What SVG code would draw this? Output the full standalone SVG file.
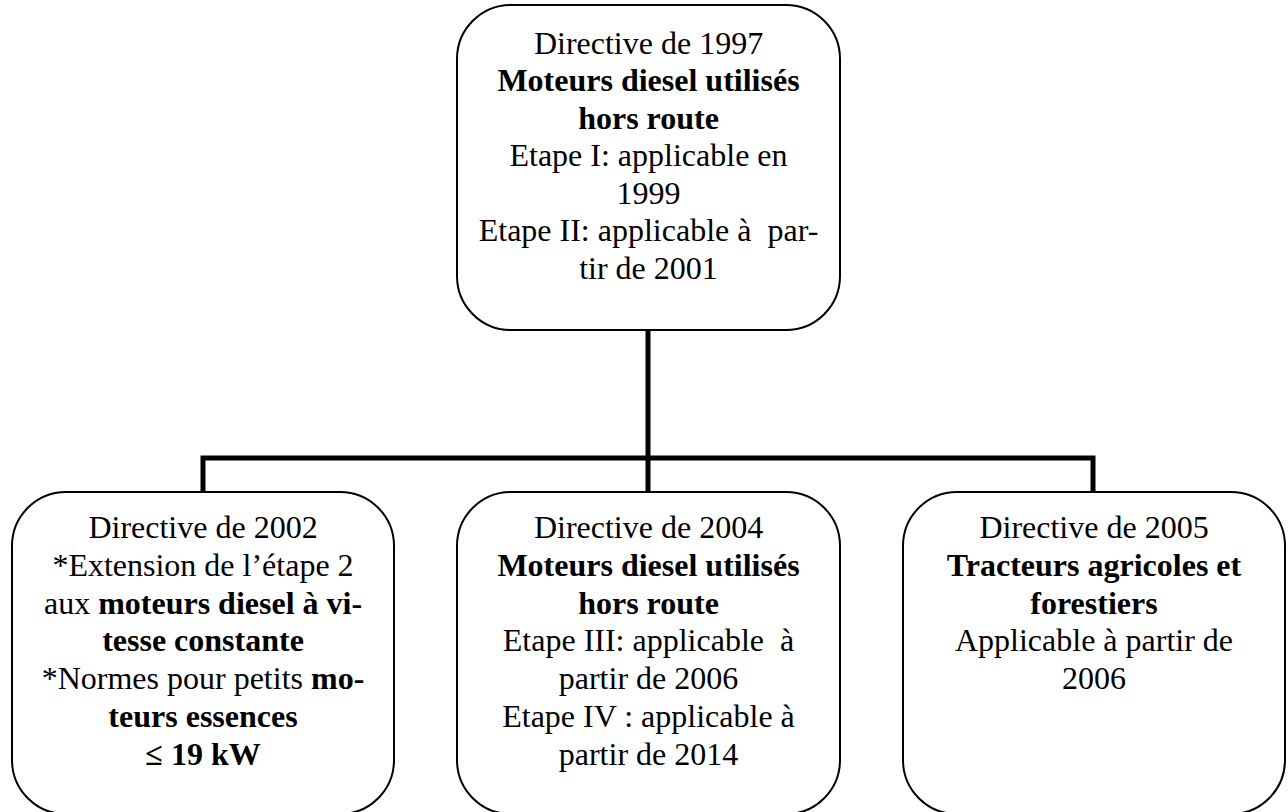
<svg xmlns="http://www.w3.org/2000/svg" width="1288" height="812" viewBox="0 0 1288 812">
<style>
.box{fill:#fff;stroke:#000;stroke-width:2}
.conn{fill:none;stroke:#000;stroke-width:5}
text{font-family:"Liberation Serif","Times New Roman",serif;font-size:32px;fill:#000;text-anchor:middle;white-space:pre}
.b{font-weight:bold}
</style>
<rect width="1288" height="812" fill="#fff"/>
<g id="connectors">
<path class="conn" d="M648 330 V458"/>
<path class="conn" d="M203 492 V458 H1093 V492"/>
<path class="conn" d="M648 458 V492"/>
</g>
<g id="n1997">
<rect class="box" x="457" y="5" width="383" height="325" rx="54" ry="54"/>
<text x="648.5" y="53.5">Directive de 1997</text>
<text x="648.5" y="91" class="b">Moteurs diesel utilisés</text>
<text x="648.5" y="128.5" class="b">hors route</text>
<text x="648.5" y="166">Etape I: applicable en</text>
<text x="648.5" y="203.5">1999</text>
<text x="648.5" y="241">Etape II: applicable à  par-</text>
<text x="648.5" y="278.5">tir de 2001</text>
</g>
<g id="n2002">
<rect class="box" x="12" y="492" width="382" height="322" rx="54" ry="54"/>
<text x="203" y="538">Directive de 2002</text>
<text x="203" y="575.8">*Extension de l’étape 2</text>
<text x="203" y="613.6">aux <tspan class="b">moteurs diesel à vi-</tspan></text>
<text x="203" y="651.4" class="b">tesse constante</text>
<text x="203" y="689.2">*Normes pour petits <tspan class="b">mo-</tspan></text>
<text x="203" y="727" class="b">teurs essences</text>
<text x="203" y="764.8" class="b">≤ 19 kW</text>
</g>
<g id="n2004">
<rect class="box" x="457" y="492" width="383" height="322" rx="54" ry="54"/>
<text x="648.5" y="538">Directive de 2004</text>
<text x="648.5" y="575.8" class="b">Moteurs diesel utilisés</text>
<text x="648.5" y="613.6" class="b">hors route</text>
<text x="648.5" y="651.4">Etape III: applicable  à</text>
<text x="648.5" y="689.2">partir de 2006</text>
<text x="648.5" y="727">Etape IV : applicable à</text>
<text x="648.5" y="764.8">partir de 2014</text>
</g>
<g id="n2005">
<rect class="box" x="903" y="492" width="382" height="322" rx="54" ry="54"/>
<text x="1094" y="538">Directive de 2005</text>
<text x="1094" y="575.8" class="b">Tracteurs agricoles et</text>
<text x="1094" y="613.6" class="b">forestiers</text>
<text x="1094" y="651.4">Applicable à partir de</text>
<text x="1094" y="689.2">2006</text>
</g>
</svg>
